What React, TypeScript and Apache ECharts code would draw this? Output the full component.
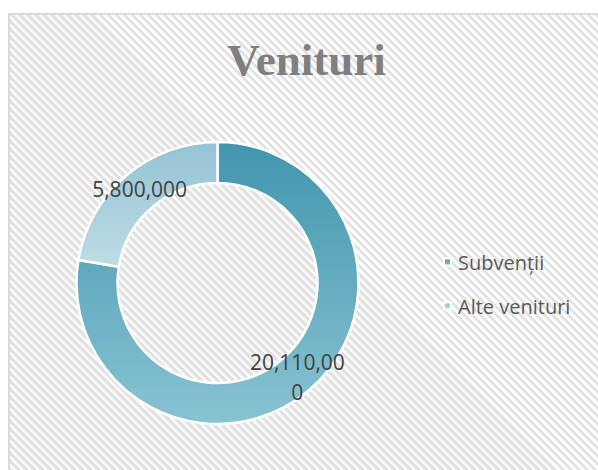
import React, { useEffect, useRef } from "react";
import * as echarts from "echarts";

const categories = ["Subvenții", "Alte venituri"];
const values = [20110000, 5800000];
const titleText = "Venituri";

const sliceGradients = [
  ["#4196AE", "#89C3D3"],
  ["#94C3D3", "#BEDCE5"],
];

function fmt(v: number): string {
  return v.toString().replace(/\B(?=(\d{3})+(?!\d))/g, ",");
}

export default function App() {
  const ref = useRef<HTMLDivElement>(null);
  useEffect(() => {
    if (!ref.current) return;
    const chart = echarts.init(ref.current, undefined, { renderer: "svg" });
    const data = categories.map((name, i) => ({
      name,
      value: values[i],
      itemStyle: {
        color: new echarts.graphic.LinearGradient(0, 0, 0, 1, [
          { offset: 0, color: sliceGradients[i][0] },
          { offset: 1, color: sliceGradients[i][1] },
        ]),
      },
      label: i === 1 ? { padding: [18, 0, 0, 4] } : {},
    }));
    chart.setOption({
      animation: false,
      backgroundColor: "transparent",
      legend: {
        orient: "vertical",
        left: 438,
        top: 245,
        itemWidth: 7,
        itemHeight: 7,
        itemGap: 20,
        icon: "rect",
        textStyle: {
          fontFamily: "Open Sans",
          fontSize: 20,
          color: "#595959",
          lineHeight: 24,
          padding: [0, 0, 0, 2],
        },
        data: categories,
      },
      graphic: [
        {
          type: "line",
          shape: { x1: 9, y1: 14, x2: 700, y2: 14 },
          style: { stroke: "#D9D9D9", lineWidth: 2 },
          silent: true,
        },
        {
          type: "line",
          shape: { x1: 9, y1: 13, x2: 9, y2: 700 },
          style: { stroke: "#D9D9D9", lineWidth: 2 },
          silent: true,
        },
        {
          type: "text",
          x: 306.5,
          y: 60,
          style: {
            text: titleText,
            align: "center",
            verticalAlign: "middle",
            fontFamily: "Liberation Serif",
            fontWeight: "bold",
            fontSize: 45,
            fill: "#7F7F7F",
          },
          silent: true,
        },
      ],
      series: [
        {
          type: "pie",
          center: [217.5, 283],
          radius: [100, 141],
          startAngle: 90,
          clockwise: true,
          avoidLabelOverlap: false,
          itemStyle: { borderColor: "#FFFFFF", borderWidth: 2.5 },
          label: {
            show: true,
            position: "inside",
            formatter: (p: any) => fmt(p.value),
            fontFamily: "Open Sans",
            fontSize: 21,
            color: "#404040",
            width: 102,
            overflow: "breakAll",
            lineHeight: 30,
            align: "center",
          },
          labelLine: { show: false },
          emphasis: { disabled: true },
          data,
        },
      ],
    });
    return () => chart.dispose();
  }, []);
  return (
    <div
      style={{
        position: "fixed",
        left: 0,
        top: 0,
        width: 598,
        height: 470,
        background: "#FFFFFF",
        overflow: "hidden",
      }}
    >
      <div
        style={{
          position: "absolute",
          left: 10,
          top: 15,
          width: 640,
          height: 500,
          backgroundImage:
            "repeating-linear-gradient(45deg, #FFFFFF 0px, #FFFFFF 2.6px, #E3E3E3 2.6px, #E3E3E3 5.66px)",
        }}
      />
      <div ref={ref} style={{ position: "absolute", left: 0, top: 0, width: 598, height: 470 }} />
    </div>
  );
}
